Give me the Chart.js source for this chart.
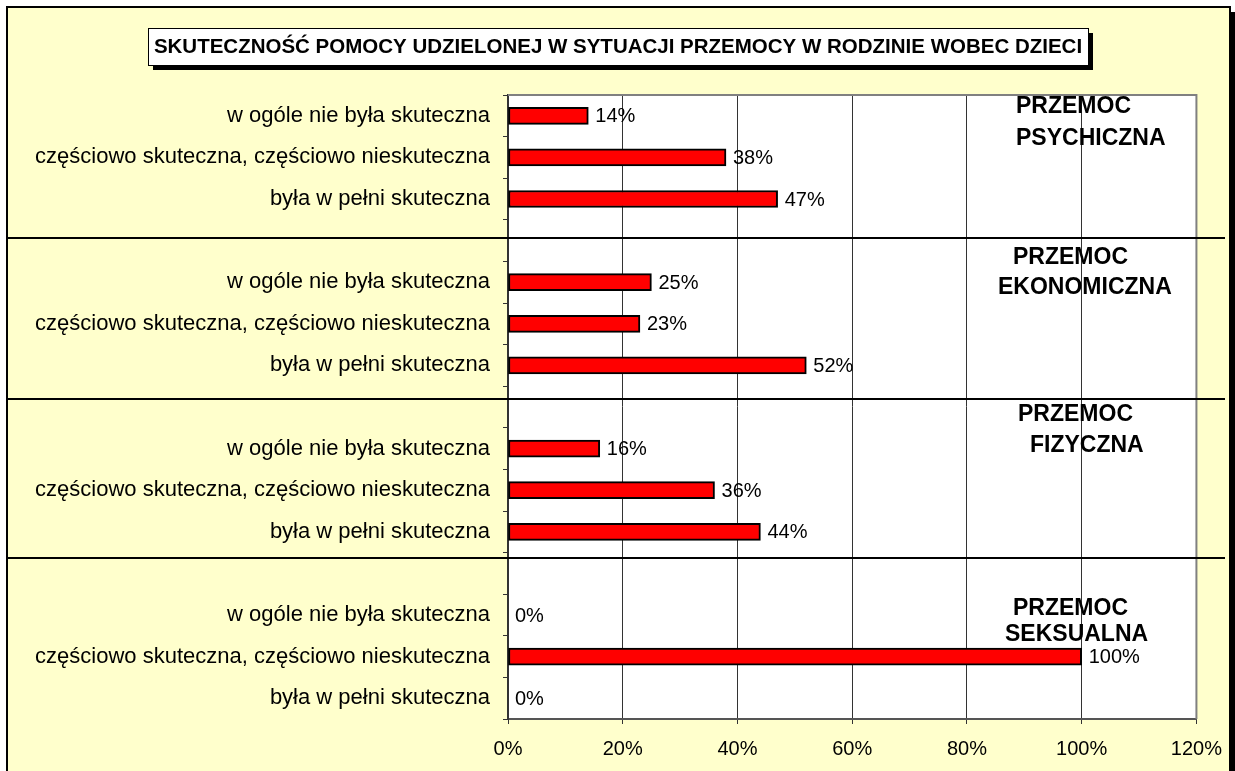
<!DOCTYPE html>
<html>
<head>
<meta charset="utf-8">
<script src="https://cdn.jsdelivr.net/npm/chart.js@4/dist/chart.umd.min.js"></script>
<style>
  html, body { margin: 0; padding: 0; background: #fff; }
  #wrap { width: 1235px; height: 771px; }
</style>
</head>
<body>
<div id="wrap"><canvas id="c" width="1235" height="771"></canvas></div>
<script>
// Effectiveness of help, by type of family violence against children.
const TITLE = "SKUTECZNOŚĆ POMOCY UDZIELONEJ W SYTUACJI PRZEMOCY W RODZINIE WOBEC DZIECI";
const answers = [
  "w ogóle nie była skuteczna",
  "częściowo skuteczna, częściowo nieskuteczna",
  "była w pełni skuteczna",
];
const groupNames = [
  ["PRZEMOC", "PSYCHICZNA"],
  ["PRZEMOC", "EKONOMICZNA"],
  ["PRZEMOC", "FIZYCZNA"],
  ["PRZEMOC", "SEKSUALNA"],
];
const psychiczna = [14, 38, 47];
const ekonomiczna = [25, 23, 52];
const fizyczna = [16, 36, 44];
const seksualna = [0, 100, 0];
const xTicks = [0, 20, 40, 60, 80, 100, 120];

// Decoration layout (hand-placed text boxes and separator lines in the original)
const SEPARATOR_Y = [238, 399, 558];
const GROUP_LABEL_POS = [
  [[1016, 107], [1016, 139]],
  [[1013, 258], [998, 288]],
  [[1018, 415], [1030, 446]],
  [[1013, 609], [1005, 635]],
];

// one blank category between groups, like the Excel original
const labels = [];
const values = [];
[psychiczna, ekonomiczna, fizyczna, seksualna].forEach((g, gi) => {
  if (gi > 0) { labels.push(""); values.push(null); }
  g.forEach((v, i) => { labels.push(answers[i]); values.push(v); });
});

const FONT = "'Liberation Sans', Arial, sans-serif";
const YELLOW = "#ffffcc";

const frame = {
  id: "frame",
  beforeDraw(chart) {
    const { ctx, chartArea: a } = chart;
    ctx.save();
    ctx.fillStyle = "#fff";
    ctx.fillRect(0, 0, chart.width, chart.height);
    // chart area with shadowed border
    ctx.fillStyle = "#000";
    ctx.fillRect(1229, 12, 6, chart.height);
    ctx.fillStyle = YELLOW;
    ctx.fillRect(8, 8, 1222, chart.height);
    ctx.strokeStyle = "#000";
    ctx.lineWidth = 2;
    ctx.beginPath();
    ctx.moveTo(7, chart.height);
    ctx.lineTo(7, 7);
    ctx.lineTo(1230, 7);
    ctx.lineTo(1230, chart.height);
    ctx.stroke();
    ctx.fillStyle = "#fff";
    ctx.fillRect(a.left, a.top, a.right - a.left, a.bottom - a.top);
    ctx.restore();
  },
  afterDatasetsDraw(chart) {
    const { ctx, chartArea: a } = chart;
    ctx.save();
    // plot area top/right edge
    ctx.strokeStyle = "#808080";
    ctx.lineWidth = 2;
    ctx.beginPath();
    ctx.moveTo(a.left, a.top);
    ctx.lineTo(a.right, a.top);
    ctx.lineTo(a.right, a.bottom);
    ctx.stroke();

    // value labels
    ctx.fillStyle = "#000";
    ctx.font = "20px " + FONT;
    ctx.textBaseline = "middle";
    ctx.textAlign = "left";
    chart.getDatasetMeta(0).data.forEach((bar, i) => {
      const v = values[i];
      if (v === null) return;
      ctx.fillText(v + "%", bar.x + 7, bar.y + 1);
    });

    // group separators
    ctx.strokeStyle = "#000";
    ctx.lineWidth = 2;
    SEPARATOR_Y.forEach((y) => {
      ctx.beginPath();
      ctx.moveTo(8, y);
      ctx.lineTo(1225, y);
      ctx.stroke();
    });

    // group names
    ctx.font = "bold 23px " + FONT;
    groupNames.forEach((lines, gi) => {
      lines.forEach((t, li) => {
        const [x, y] = GROUP_LABEL_POS[gi][li];
        ctx.fillText(t, x, y);
      });
    });

    // title box with drop shadow
    const bx = 148, by = 28, bw = 940, bh = 37;
    ctx.fillStyle = "#000";
    ctx.fillRect(bx + 5, by + 5, bw, bh);
    ctx.fillStyle = "#fff";
    ctx.fillRect(bx, by, bw, bh);
    ctx.strokeStyle = "#000";
    ctx.lineWidth = 1;
    ctx.strokeRect(bx + 0.5, by + 0.5, bw, bh);
    ctx.fillStyle = "#000";
    ctx.font = "bold 20.5px " + FONT;
    ctx.textAlign = "center";
    ctx.fillText(TITLE, bx + bw / 2, by + bh / 2 + 1, bw - 8);
    ctx.restore();
  },
};

new Chart(document.getElementById("c"), {
  type: "bar",
  data: {
    labels,
    datasets: [{
      data: values,
      backgroundColor: "#ff0000",
      borderColor: "#000",
      borderWidth: 2,
      borderSkipped: false,
      barThickness: 17,
    }],
  },
  plugins: [frame],
  options: {
    indexAxis: "y",
    responsive: false,
    animation: false,
    layout: { padding: { top: 95, right: 38, left: 0, bottom: 0 } },
    plugins: { legend: { display: false }, tooltip: { enabled: false }, title: { display: false } },
    scales: {
      x: {
        min: 0, max: 120,
        afterBuildTicks(s) { s.ticks = xTicks.map((v) => ({ value: v })); },
        afterFit(s) { s.height = 52; },
        ticks: {
          color: "#000", font: { family: FONT, size: 20 }, padding: 13,
          maxRotation: 0, callback: (v) => v + "%",
        },
        grid: { color: "#333", lineWidth: 1, tickLength: 5 },
        border: { color: "#555", width: 2 },
      },
      y: {
        afterFit(s) { s.width = 508; },
        ticks: { color: "#000", font: { family: FONT, size: 22 }, padding: 13, autoSkip: false },
        grid: { drawOnChartArea: false, tickLength: 5, color: "#333", offset: true },
        border: { color: "#333", width: 2 },
      },
    },
  },
});
</script>
</body>
</html>
